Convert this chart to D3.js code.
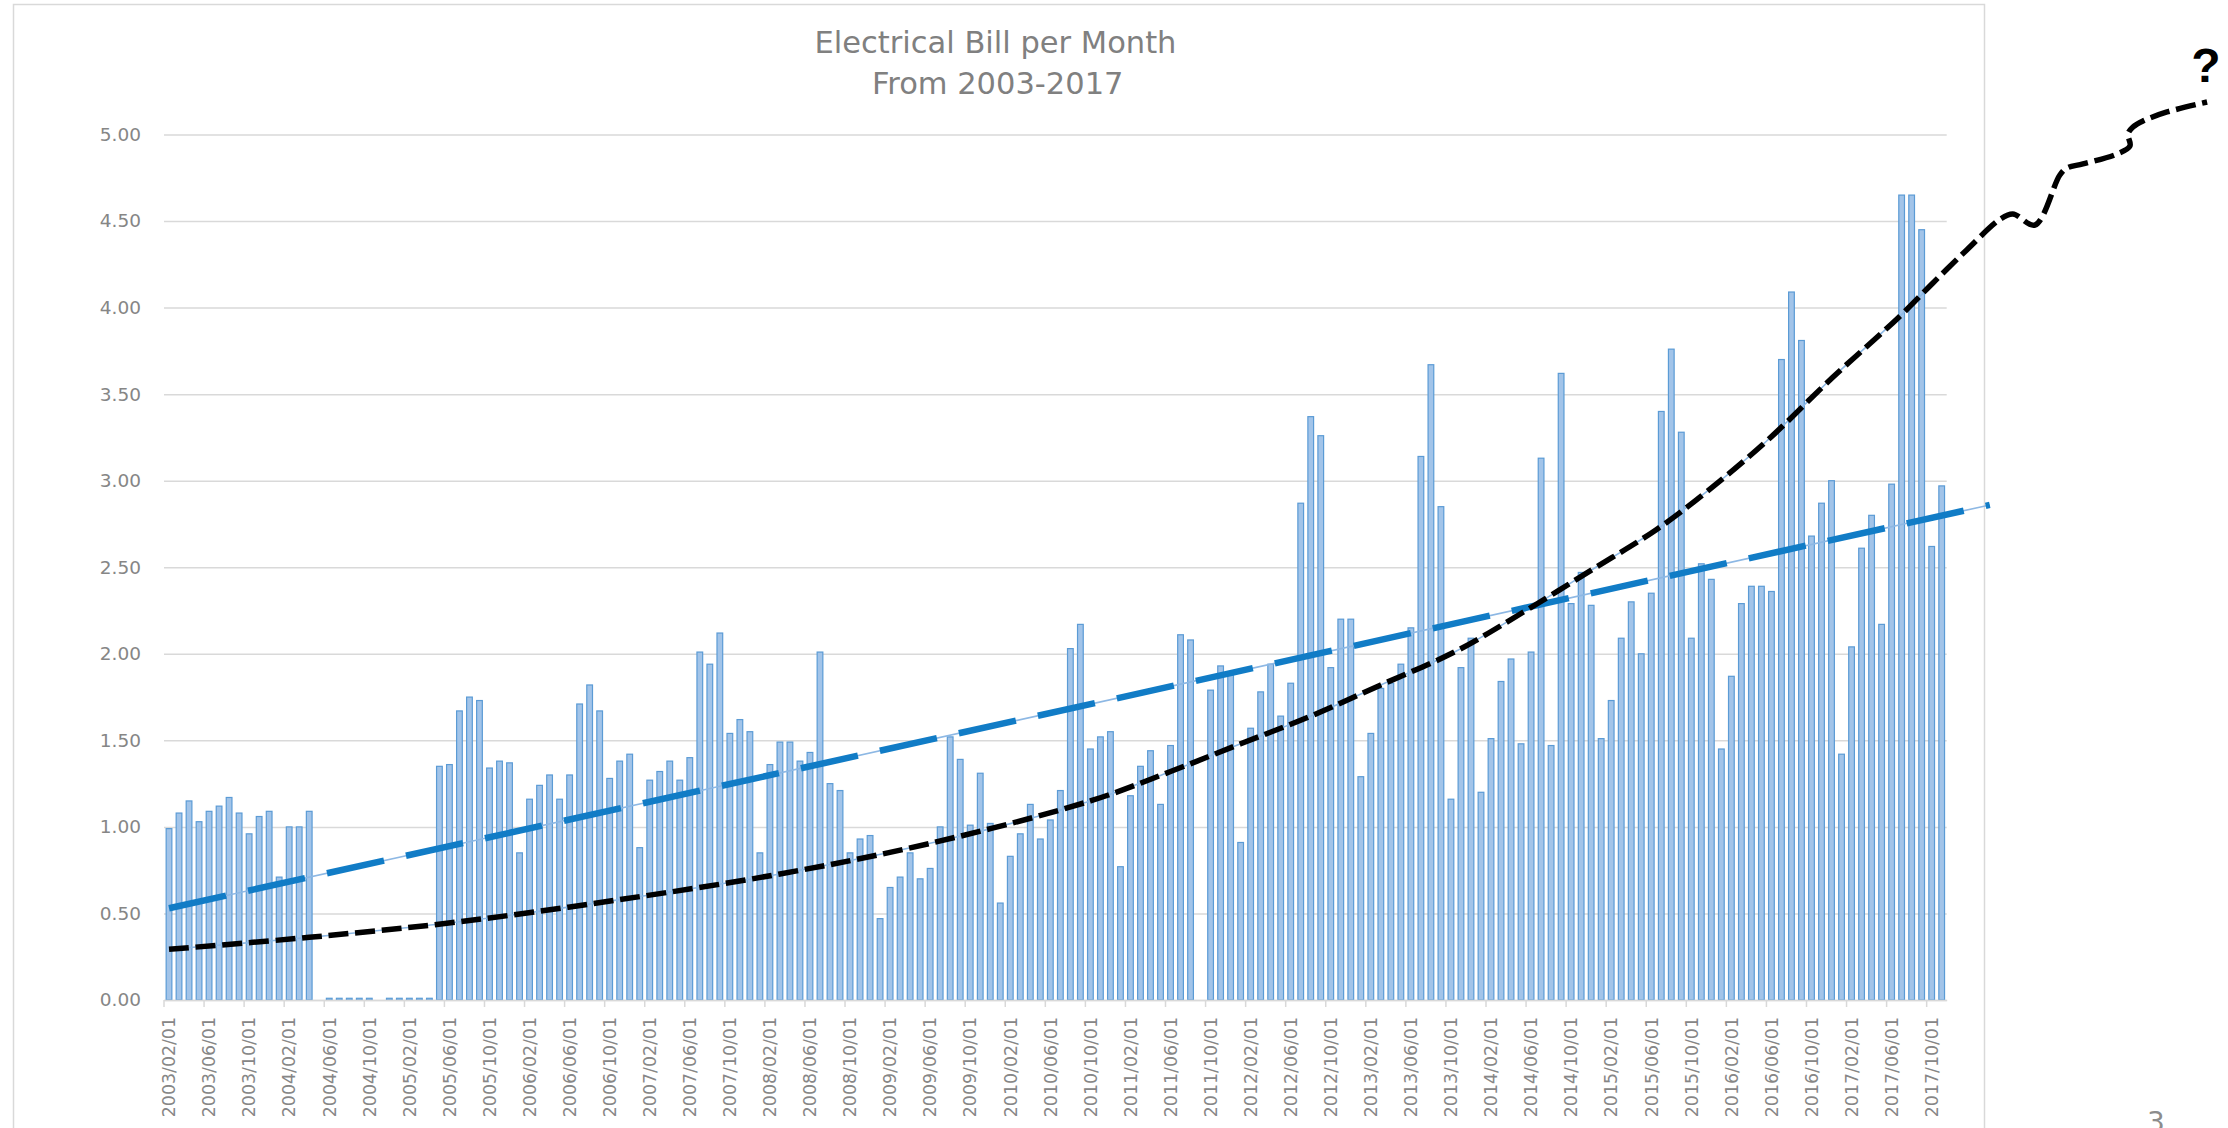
<!DOCTYPE html>
<html>
<head>
<meta charset="utf-8">
<script src="https://cdnjs.cloudflare.com/ajax/libs/d3/7.8.5/d3.min.js"></script>
<style>
  body { margin: 0; background: #fff; }
  svg { display: block; }
</style>
</head>
<body>
<div id="chart"></div>
<script>
// monthly bill, 2003/02 .. 2017/11  (null = no reading that month)
var bills = [
    0.99, 1.08, 1.15, 1.03, 1.09, 1.12, 1.17, 1.08, 0.96, 1.06, 1.09, 0.71, 1.00, 1.00, 1.09,
    null, 0.01, 0.01, 0.01, 0.01, 0.01, null, 0.01, 0.01, 0.01, 0.01, 0.01,
    1.35, 1.36, 1.67, 1.75, 1.73, 1.34, 1.38, 1.37, 0.85, 1.16, 1.24, 1.30, 1.16, 1.30, 1.71, 1.82, 1.67, 1.28, 1.38, 1.42, 0.88, 1.27, 1.32, 1.38, 1.27, 1.40,
    2.01, 1.94, 2.12, 1.54, 1.62, 1.55, 0.85, 1.36, 1.49, 1.49, 1.38, 1.43, 2.01, 1.25, 1.21, 0.85, 0.93, 0.95, 0.47, 0.65, 0.71, 0.85, 0.70, 0.76, 1.00,
    1.52, 1.39, 1.01, 1.31, 1.02, 0.56, 0.83, 0.96, 1.13, 0.93, 1.04, 1.21, 2.03, 2.17, 1.45, 1.52, 1.55, 0.77, 1.18, 1.35, 1.44, 1.13, 1.47, 2.11, 2.08,
    null, 1.79, 1.93, 1.89, 0.91, 1.57, 1.78, 1.94, 1.64, 1.83, 2.87, 3.37, 3.26, 1.92, 2.20, 2.20, 1.29, 1.54, 1.80, 1.83, 1.94, 2.15, 3.14, 3.67, 2.85,
    1.16, 1.92, 2.09, 1.20, 1.51, 1.84, 1.97, 1.48, 2.01, 3.13, 1.47, 3.62, 2.29, 2.47, 2.28, 1.51, 1.73, 2.09, 2.30, 2.00, 2.35, 3.40, 3.76, 3.28, 2.09,
    2.52, 2.43, 1.45, 1.87, 2.29, 2.39, 2.39, 2.36, 3.70, 4.09, 3.81, 2.68, 2.87, 3.00, 1.42, 2.04, 2.61, 2.80, 2.17, 2.98, 4.65, 4.65, 4.45, 2.62, 2.97
]

var xTickLabels = [
    '2003/02/01', '2003/06/01', '2003/10/01', '2004/02/01', '2004/06/01', '2004/10/01',
    '2005/02/01', '2005/06/01', '2005/10/01', '2006/02/01', '2006/06/01', '2006/10/01',
    '2007/02/01', '2007/06/01', '2007/10/01', '2008/02/01', '2008/06/01', '2008/10/01',
    '2009/02/01', '2009/06/01', '2009/10/01', '2010/02/01', '2010/06/01', '2010/10/01',
    '2011/02/01', '2011/06/01', '2011/10/01', '2012/02/01', '2012/06/01', '2012/10/01',
    '2013/02/01', '2013/06/01', '2013/10/01', '2014/02/01', '2014/06/01', '2014/10/01',
    '2015/02/01', '2015/06/01', '2015/10/01', '2016/02/01', '2016/06/01', '2016/10/01',
    '2017/02/01', '2017/06/01', '2017/10/01'
]
var yTicks = [0, 0.5, 1, 1.5, 2, 2.5, 3, 3.5, 4, 4.5, 5]

var titleLines = ['Electrical Bill per Month', 'From 2003-2017']

// [month index, value]
var linearTrend = [[0, 0.53], [181.8, 2.86]]
var curveTrend = [
    [0, 0.293], [14, 0.362], [29, 0.452], [45, 0.58], [61, 0.728], [76, 0.905], [92, 1.15],
    [100, 1.32], [107, 1.48], [114, 1.64], [121, 1.82], [128.5, 2.015], [135.2, 2.24],
    [141.9, 2.479], [148.5, 2.717], [153.5, 2.935], [159.5, 3.228], [166.1, 3.596],
    [172.8, 3.949], [176.1, 4.141], [179.5, 4.333], [182.8, 4.509]
]
// hand drawn bit past the frame
var squiggle = [
    [184.1, 4.541], [186.3, 4.477], [188.8, 4.766], [189.5, 4.806], [191.1, 4.83],
    [194.5, 4.887], [195.8, 4.934], [195.6, 5.003], [196.1, 5.043], [197.1, 5.078],
    [199.5, 5.13], [203.5, 5.188]
]

var months = d3.timeMonth.range(new Date(2003, 1, 1), new Date(2017, 11, 1)).map(d3.timeFormat('%Y/%m/%d'))

var W = 2228, H = 1128
var plotL = 164, plotR = 1946.7, plotT = 134.5, plotB = 1000
var grey = '#868686', lightGrey = '#d9d9d9'

var svg = d3.select('#chart').append('svg')
    .attr('width', W)
    .attr('height', H)

/* frame of the chart object */
svg.append('rect')
    .attr('x', 13.5).attr('y', 4.5)
    .attr('width', 1971).attr('height', 1200)
    .style('fill', 'none')
    .style('stroke', lightGrey)
    .style('stroke-width', 1.5)

/* Scale */
var xScale = d3.scaleBand()
    .domain(months)
    .range([plotL, plotR])
var bw = xScale.bandwidth()

// month index -> x of the category centre (trendlines run past the last month)
var xIdx = d3.scaleLinear()
    .domain([0, months.length - 1])
    .range([plotL + bw / 2, plotR - bw / 2])

var yScale = d3.scaleLinear()
    .domain([0, 5])
    .range([plotB, plotT])

/* grid + y labels */
var yAxis = svg.append('g')
    .attr('class', 'y axis')
    .attr('transform', `translate(${plotL},0)`)
    .call(d3.axisLeft(yScale)
        .tickValues(yTicks)
        .tickSize(-(plotR - plotL))
        .tickPadding(23)
        .tickFormat(d3.format('.2f')))
yAxis.select('.domain').remove()
yAxis.selectAll('line')
    .style('stroke', lightGrey)
    .style('stroke-width', 1.5)
yAxis.selectAll('text')
    .style('font-family', 'DejaVu Sans')
    .style('font-size', '18.5px')
    .style('fill', grey)

/* bars */
var barW = bw * 0.57
svg.append('g')
    .attr('class', 'bars')
    .selectAll('rect')
    .data(bills.map((v, i) => ({ m: months[i], v: v })).filter(d => d.v != null))
    .enter()
    .append('rect')
    .attr('x', d => xScale(d.m) + (bw - barW) / 2)
    .attr('y', d => yScale(d.v))
    .attr('width', barW)
    .attr('height', d => yScale(0) - yScale(d.v))
    .style('fill', '#a2c4e9')
    .style('stroke', '#5b9bd5')
    .style('stroke-width', 1.2)

/* x axis */
var xAxis = svg.append('g')
    .attr('class', 'x axis')
    .attr('transform', `translate(0,${plotB})`)
    .call(d3.axisBottom(xScale).tickValues(xTickLabels).tickSize(7).tickSizeOuter(0))
xAxis.select('.domain')
    .style('stroke', lightGrey)
    .style('stroke-width', 1.5)
// excel puts the marks on the category boundaries
xAxis.selectAll('.tick line')
    .attr('x1', -bw / 2).attr('x2', -bw / 2)
    .style('stroke', lightGrey)
    .style('stroke-width', 1.5)
xAxis.selectAll('.tick text')
    .attr('transform', 'rotate(-90)')
    .attr('x', -17).attr('y', 0).attr('dy', '0.36em')
    .style('text-anchor', 'end')
    .style('font-family', 'DejaVu Sans')
    .style('font-size', '17.4px')
    .style('fill', grey)

/* trendlines */
var line = d3.line()
    .x(d => xIdx(d[0]))
    .y(d => yScale(d[1]))
var curvy = d3.line()
    .x(d => xIdx(d[0]))
    .y(d => yScale(d[1]))
    .curve(d3.curveCatmullRom.alpha(0.5))

let lines = svg.append('g').attr('class', 'lines')

// thin excel trendlines under the dashes
lines.append('path')
    .attr('d', line(linearTrend))
    .style('fill', 'none')
    .style('stroke', '#8db8e4')
    .style('stroke-width', 1.6)
lines.append('path')
    .attr('d', curvy(curveTrend.filter(d => d[0] <= 178)))
    .style('fill', 'none')
    .style('stroke', '#8db8e4')
    .style('stroke-width', 1.6)

lines.append('path')
    .attr('d', line(linearTrend))
    .style('fill', 'none')
    .style('stroke', '#117cc6')
    .style('stroke-width', 6.5)
    .style('stroke-dasharray', '58.4,22.5')

lines.append('path')
    .attr('d', curvy(curveTrend.concat(squiggle)))
    .style('fill', 'none')
    .style('stroke', '#000')
    .style('stroke-width', 5.5)
    .style('stroke-dasharray', '20,6.7')

/* texts */
svg.append('g')
    .selectAll('text')
    .data(titleLines).enter()
    .append('text')
    .attr('x', (d, i) => i ? 997.7 : 995.5)
    .attr('y', (d, i) => i ? 94 : 53)
    .attr('text-anchor', 'middle')
    .style('font-family', 'DejaVu Sans')
    .style('font-size', '30.5px')
    .style('fill', '#808080')
    .text(d => d)

svg.append('text')
    .attr('x', 2206).attr('y', 82)
    .attr('text-anchor', 'middle')
    .style('font-family', 'Liberation Sans')
    .style('font-weight', 'bold')
    .style('font-size', '48px')
    .style('fill', '#000')
    .text('?')

// slide number, cut by the bottom edge
svg.append('text')
    .attr('x', 2156).attr('y', 1132)
    .attr('text-anchor', 'middle')
    .style('font-family', 'DejaVu Sans')
    .style('font-size', '28px')
    .style('fill', '#8c8c8c')
    .text('3')
</script>
</body>
</html>
